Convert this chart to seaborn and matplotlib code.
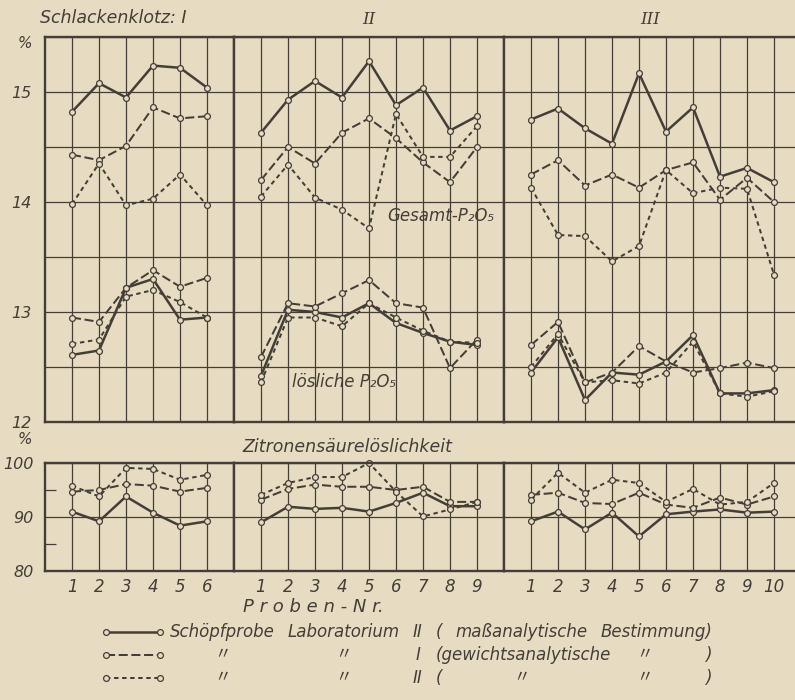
import numpy as np
import pandas as pd
import matplotlib
matplotlib.use("Agg")
import matplotlib.pyplot as plt
import seaborn as sns
from matplotlib.lines import Line2D

# ---------------- data ----------------
proben_I = [1, 2, 3, 4, 5, 6]
proben_II = [1, 2, 3, 4, 5, 6, 7, 8, 9]
proben_III = [1, 2, 3, 4, 5, 6, 7, 8, 9, 10]

reihen = ["Lab. II maßanalytisch", "Lab. I gewichtsanalytisch", "Lab. II gewichtsanalytisch"]

# Gesamt-P2O5 (%)
gesamt_I_m = [14.82, 15.08, 14.95, 15.24, 15.22, 15.04]
gesamt_I_g1 = [14.43, 14.38, 14.51, 14.86, 14.76, 14.78]
gesamt_I_g2 = [13.98, 14.35, 13.97, 14.03, 14.25, 13.97]
gesamt_II_m = [14.63, 14.93, 15.10, 14.95, 15.28, 14.88, 15.04, 14.65, 14.78]
gesamt_II_g1 = [14.20, 14.50, 14.35, 14.63, 14.76, 14.58, 14.36, 14.18, 14.50]
gesamt_II_g2 = [14.05, 14.34, 14.04, 13.93, 13.76, 14.80, 14.41, 14.41, 14.69]
gesamt_III_m = [14.75, 14.85, 14.67, 14.53, 15.17, 14.64, 14.86, 14.23, 14.31, 14.18]
gesamt_III_g1 = [14.25, 14.38, 14.15, 14.25, 14.13, 14.29, 14.36, 14.02, 14.22, 14.00]
gesamt_III_g2 = [14.13, 13.70, 13.69, 13.46, 13.60, 14.29, 14.08, 14.13, 14.12, 13.34]

# lösliche P2O5 (%)
loesl_I_m = [12.61, 12.65, 13.22, 13.30, 12.93, 12.95]
loesl_I_g1 = [12.95, 12.91, 13.22, 13.38, 13.23, 13.31]
loesl_I_g2 = [12.71, 12.75, 13.14, 13.20, 13.09, 12.95]
loesl_II_m = [12.42, 13.02, 13.00, 12.95, 13.08, 12.90, 12.81, 12.73, 12.70]
loesl_II_g1 = [12.59, 13.08, 13.05, 13.17, 13.29, 13.08, 13.04, 12.49, 12.75]
loesl_II_g2 = [12.36, 12.95, 12.95, 12.87, 13.08, 12.95, 12.83, 12.73, 12.72]
loesl_III_m = [12.45, 12.77, 12.20, 12.45, 12.43, 12.55, 12.79, 12.26, 12.26, 12.29]
loesl_III_g1 = [12.70, 12.91, 12.36, 12.45, 12.69, 12.55, 12.45, 12.49, 12.54, 12.49]
loesl_III_g2 = [12.50, 12.80, 12.36, 12.38, 12.35, 12.45, 12.73, 12.26, 12.23, 12.28]

# Zitronensäurelöslichkeit (%)
zitr_I_m = [91.0, 89.2, 93.8, 90.8, 88.4, 89.2]
zitr_I_g1 = [94.7, 95.0, 96.1, 95.8, 94.7, 95.4]
zitr_I_g2 = [95.8, 93.8, 99.1, 98.9, 96.9, 97.8]
zitr_II_m = [89.0, 91.9, 91.5, 91.7, 91.0, 92.6, 94.5, 92.0, 92.0]
zitr_II_g1 = [93.2, 95.2, 96.0, 95.6, 95.6, 95.0, 95.6, 92.8, 92.8]
zitr_II_g2 = [94.1, 96.3, 97.4, 97.4, 100.0, 94.7, 90.1, 91.4, 92.8]
zitr_III_m = [89.2, 91.0, 87.7, 90.8, 86.4, 90.5, 91.0, 91.4, 90.8, 91.0]
zitr_III_g1 = [94.1, 94.5, 92.6, 92.4, 94.5, 92.3, 91.7, 93.6, 92.3, 93.8]
zitr_III_g2 = [93.2, 98.2, 94.5, 96.9, 96.3, 92.8, 95.2, 92.3, 92.8, 96.3]

ticks_oben = ["12", "", "13", "", "14", "", "15", ""]
ticks_unten = ["80", "90", "100"]
legende_1 = ["Schöpfprobe", "Laboratorium", "II", "(", "maßanalytische", "Bestimmung)"]

# ---------------- style ----------------
BG = "#e7dcc1"
INK = "#443e37"
sns.set_theme(style="white", rc={"axes.facecolor": BG, "figure.facecolor": BG})
plt.rcParams["font.family"] = ["DejaVu Sans"]
plt.rcParams["font.style"] = "oblique"

DASHES = {reihen[0]: "", reihen[1]: (4.5, 1.8), reihen[2]: (2.2, 1.8)}
MARKERS = {r: "o" for r in reihen}

W, H = 795, 700
fig = plt.figure(figsize=(W / 100, H / 100), dpi=100, facecolor=BG)


def rect(x0, x1, y0, y1):
    return [x0 / W, 1 - y1 / H, (x1 - x0) / W, (y1 - y0) / H]


def frame(proben, m, g1, g2, teil):
    rows = []
    for name, vals in zip(reihen, [m, g1, g2]):
        for p, v in zip(proben, vals):
            rows.append({"Probe": p, "Wert": v, "Reihe": name, "Teil": teil})
    return pd.DataFrame(rows)


def draw(ax, df):
    sns.lineplot(data=df, x="Probe", y="Wert", style="Reihe", units="Teil",
                 estimator=None, sort=False, style_order=reihen,
                 dashes=DASHES, markers=MARKERS, color=INK, linewidth=1.45,
                 markersize=4.2, markerfacecolor=BG, markeredgecolor=INK,
                 markeredgewidth=0.9, legend=False, clip_on=False, ax=ax)
    for ln in ax.lines:
        if ln.get_linestyle() == "-":
            ln.set_linewidth(1.8)
    ax.set_xlabel("")
    ax.set_ylabel("")


def style_ax(ax, n_cells, proben):
    ax.set_facecolor(BG)
    ax.set_xlim(0, n_cells)
    ax.set_xticks(proben)
    for s in ax.spines.values():
        s.set_visible(True)
        s.set_color(INK)
        s.set_linewidth(1.7)
    ax.tick_params(length=0, colors=INK)


x_edges = [45, 234, 504, 801]
cells = [7, 10, 11]
proben_all = [proben_I, proben_II, proben_III]
oben = [(gesamt_I_m, gesamt_I_g1, gesamt_I_g2, loesl_I_m, loesl_I_g1, loesl_I_g2),
        (gesamt_II_m, gesamt_II_g1, gesamt_II_g2, loesl_II_m, loesl_II_g1, loesl_II_g2),
        (gesamt_III_m, gesamt_III_g1, gesamt_III_g2, loesl_III_m, loesl_III_g1, loesl_III_g2)]
unten = [(zitr_I_m, zitr_I_g1, zitr_I_g2),
         (zitr_II_m, zitr_II_g1, zitr_II_g2),
         (zitr_III_m, zitr_III_g1, zitr_III_g2)]

for i in range(3):
    pr = proben_all[i]
    # upper panel
    ax = fig.add_axes(rect(x_edges[i], x_edges[i + 1], 37, 422))
    g = oben[i]
    df = pd.concat([frame(pr, g[0], g[1], g[2], "gesamt"),
                    frame(pr, g[3], g[4], g[5], "loeslich")])
    style_ax(ax, cells[i], pr)
    ax.set_ylim(12, 15.5)
    ax.set_yticks(np.arange(12, 15.51, 0.5))
    ax.grid(True, color=INK, linewidth=0.9)
    ax.set_xticklabels([])
    if i == 0:
        ax.set_yticklabels(ticks_oben, fontsize=11.5, color=INK)
        ax.tick_params(axis="y", pad=10)
    else:
        ax.set_yticklabels([])
    draw(ax, df)

    # lower panel
    ax2 = fig.add_axes(rect(x_edges[i], x_edges[i + 1], 463, 571))
    u = unten[i]
    df2 = frame(pr, u[0], u[1], u[2], "zitr")
    style_ax(ax2, cells[i], pr)
    ax2.set_ylim(80, 100)
    ax2.set_yticks([80, 90, 100])
    ax2.grid(True, color=INK, linewidth=0.9)
    ax2.set_xticklabels([str(p) for p in pr], fontsize=12, color=INK)
    ax2.tick_params(axis="x", pad=5)
    if i == 0:
        ax2.set_yticklabels(ticks_unten, fontsize=11.5, color=INK)
        ax2.tick_params(axis="y", pad=8)
        ax2.set_yticks([85, 95], minor=True)
        ax2.tick_params(axis="y", which="minor", direction="in", length=8,
                        width=0.9, color=INK, left=True)
    else:
        ax2.set_yticklabels([])
    draw(ax2, df2)


def ftxt(x, y, s, **kw):
    kw.setdefault("color", INK)
    kw.setdefault("va", "center")
    return fig.text(x / W, 1 - y / H, s, **kw)


ftxt(113, 18, "Schlackenklotz: I", fontsize=12.5, ha="center")
ftxt(369, 20, "II", fontsize=12, ha="center", family="DejaVu Serif")
ftxt(650, 20, "III", fontsize=12, ha="center", family="DejaVu Serif")
ftxt(25, 43, "%", fontsize=11, ha="center")
ftxt(25, 439, "%", fontsize=11, ha="center")
ftxt(387, 216, "Gesamt-P₂O₅", fontsize=12, ha="left")
ftxt(292, 382, "lösliche P₂O₅", fontsize=12, ha="left")
ftxt(242, 447, "Zitronensäurelöslichkeit", fontsize=12.5, ha="left")
ftxt(243, 607, "P r o b e n - N r.", fontsize=13, ha="left")

# legend
leg_y = [632, 655, 678]
for y, r in zip(leg_y, reihen):
    ln = Line2D([106 / W, 160 / W], [1 - y / H, 1 - y / H], transform=fig.transFigure,
                color=INK, linewidth=1.8 if DASHES[r] == "" else 1.45,
                marker="o", markersize=4.2, markerfacecolor=BG, markeredgecolor=INK,
                markeredgewidth=0.9)
    if DASHES[r] != "":
        ln.set_dashes(DASHES[r])
    fig.add_artist(ln)

fs = 12
renderer = fig.canvas.get_renderer()
# measure words of the first legend row, then spread them from x=170 to x=712
widths = []
for w_ in legende_1:
    t = ftxt(0, leg_y[0], w_, fontsize=fs, ha="left")
    widths.append(t.get_window_extent(renderer).width)
    t.remove()
x_start, x_end = 170, 712
gap = (x_end - x_start - sum(widths)) / (len(legende_1) - 1)
spans = {}
x = x_start
for w_, wd in zip(legende_1, widths):
    ftxt(x, leg_y[0], w_, fontsize=fs, ha="left")
    spans[w_] = (x, x + wd)
    x += wd + gap


def mid(key):
    return 0.5 * (spans[key][0] + spans[key][1])


DITTO = "〃"
dkw = dict(fontsize=12, ha="center", family=["Noto Sans CJK JP", "DejaVu Sans"], fontstyle="normal")
for y in leg_y[1:]:
    ftxt(mid("Schöpfprobe"), y, DITTO, **dkw)
    ftxt(mid("Laboratorium"), y, DITTO, **dkw)
    ftxt(mid("Bestimmung)") - 12, y, DITTO, **dkw)
    ftxt(x_end, y, ")", fontsize=fs, ha="right")
ftxt(mid("II"), leg_y[1], "I", fontsize=fs, ha="center")
ftxt(spans["("][0], leg_y[1], "(gewichtsanalytische", fontsize=fs, ha="left")
ftxt(mid("II"), leg_y[2], "II", fontsize=fs, ha="center")
ftxt(spans["("][0], leg_y[2], "(", fontsize=fs, ha="left")
ftxt(mid("maßanalytische"), leg_y[2], DITTO, **dkw)

fig.savefig("out.png", dpi=100, facecolor=BG)
